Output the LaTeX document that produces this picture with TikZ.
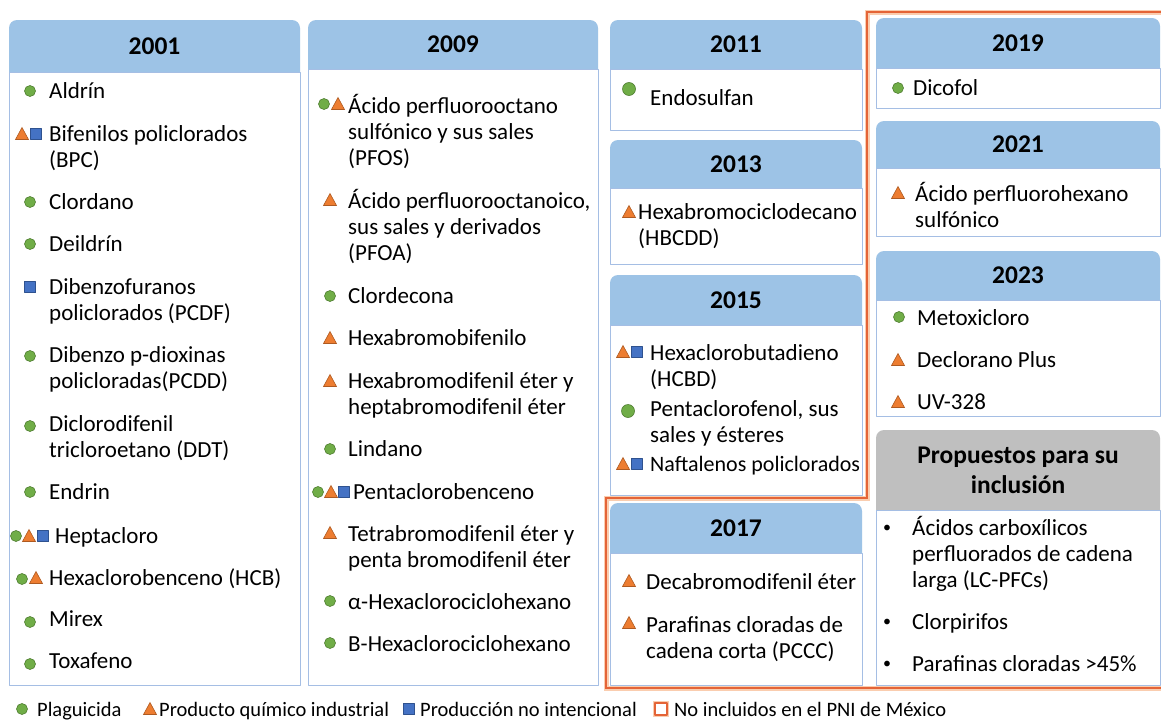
\documentclass[tikz,border=0pt]{standalone}
\usepackage{fontspec}
\setmainfont{Carlito}
\definecolor{hdrblue}{RGB}{157,195,230}
\definecolor{hdrgray}{RGB}{191,191,191}
\definecolor{boxline}{RGB}{165,190,228}
\definecolor{plagreen}{RGB}{112,173,71}
\definecolor{plaedge}{RGB}{80,126,50}
\definecolor{indorange}{RGB}{237,125,49}
\definecolor{indedge}{RGB}{174,90,33}
\definecolor{nonblue}{RGB}{68,114,196}
\definecolor{nonedge}{RGB}{47,82,143}
\definecolor{pniline}{RGB}{228,100,55}
\definecolor{pniglow}{RGB}{250,205,175}
% name, x1, x2, top, header bottom, bottom, fill, label
\newcommand{\yearbox}[8]{%
 \fill[#7, rounded corners=8pt] (#2,#5+10) rectangle (#3,#4);
 \filldraw[bodybox] (#2,#5) rectangle (#3,#6);
 \node[yearlbl] (#1) at ({(#2+#3)/2},{(#4+#5)/2}) {#8};}
\newcommand{\plag}[2]{\filldraw[plag] (#1,#2) circle (5.5pt);}
\newcommand{\indq}[2]{\filldraw[indq] (#1-6.5,#2+5.5) -- (#1+6.5,#2+5.5) -- (#1,#2-6.5) -- cycle;}
\newcommand{\nonint}[2]{\filldraw[nonint] (#1-5.5,#2-5.5) rectangle (#1+5.5,#2+5.5);}
\begin{document}
\begin{tikzpicture}[x=1pt, y=-1pt, line join=round,
 item/.style={anchor=base west, inner sep=0pt, align=left, font=\fontsize{23}{26}\selectfont},
 bul/.style={anchor=base west, inner sep=0pt, font=\fontsize{16}{20}\selectfont},
 yearlbl/.style={inner sep=0pt, align=center, font=\bfseries\fontsize{25.5}{30}\selectfont},
 lgd/.style={anchor=base west, inner sep=0pt, font=\fontsize{20.5}{24}\selectfont},
 plag/.style={fill=plagreen, draw=plaedge, line width=0.6pt},
 indq/.style={fill=indorange, draw=indedge, line width=0.6pt, line join=miter},
 nonint/.style={fill=nonblue, draw=nonedge, line width=0.6pt},
 bodybox/.style={fill=white, draw=boxline, line width=1pt},
 pniglow/.style={draw=pniglow, line width=5pt, line join=miter},
 pniedge/.style={draw=pniline, line width=1.6pt, line join=miter}]
 \useasboundingbox (0,0) rectangle (1161,720);
 \fill[white] (0,0) rectangle (1161,720);
 % boxes
 \yearbox{y2001}{9}{300}{20}{72}{685}{hdrblue}{2001}
 \yearbox{y2009}{308}{598}{20}{69}{685}{hdrblue}{2009}
 \yearbox{y2011}{610}{862}{20}{69}{130}{hdrblue}{2011}
 \yearbox{y2013}{610}{862}{140}{188}{264}{hdrblue}{2013}
 \yearbox{y2015}{610}{862}{275}{325}{495}{hdrblue}{2015}
 \yearbox{y2017}{610}{862}{503}{553}{685}{hdrblue}{2017}
 \yearbox{y2019}{876}{1160}{18}{68}{108}{hdrblue}{2019}
 \yearbox{y2021}{876}{1160}{121}{168}{236}{hdrblue}{2021}
 \yearbox{y2023}{876}{1160}{251}{300}{416}{hdrblue}{2023}
 \yearbox{prop}{876}{1160}{430}{510}{685}{hdrgray}{Propuestos para su\\inclusión}
 % not in the PNI
 \draw[pniglow] (867,12) -- (1166,12) -- (1166,688) -- (606,688) -- (606,498) -- (867,498) -- cycle;
 \draw[pniedge] (867,12) -- (1166,12) -- (1166,688) -- (606,688) -- (606,498) -- (867,498) -- cycle;
 % 2001 (multi-line items sit on their last baseline)
 \plag{30}{91} \node[item] (aldrin) at (49,98) {Aldrín};
 \indq{22}{134} \nonint{36}{134} \node[item] (bpc) at (49,167) {Bifenilos policlorados\\(BPC)};
 \plag{30}{202} \node[item] (clordano) at (49,209) {Clordano};
 \plag{30}{244} \node[item] (deildrin) at (49,251) {Deildrín};
 \nonint{30}{287} \node[item] (pcdf) at (49,320) {Dibenzofuranos\\policlorados (PCDF)};
 \plag{30}{356} \node[item] (pcdd) at (49,388) {Dibenzo p-dioxinas\\policloradas(PCDD)};
 \plag{30}{426} \node[item] (ddt) at (49,457) {Diclorodifenil\\tricloroetano (DDT)};
 \plag{30}{492} \node[item] (endrin) at (49,499) {Endrin};
 \plag{16}{536} \indq{29}{536} \nonint{43}{536} \node[item] (hepta) at (55,543) {Heptacloro};
 \plag{22}{579} \indq{36}{578} \node[item] (hcb) at (49,585) {Hexaclorobenceno (HCB)};
 \plag{30}{622} \node[item] (mirex) at (49,626) {Mirex};
 \plag{30}{664} \node[item] (toxa) at (49,668) {Toxafeno};
 % 2009
 \plag{324}{104} \indq{338}{104} \node[item] (pfos) at (348,165) {Ácido perfluorooctano\\sulfónico y sus sales\\(PFOS)};
 \indq{330}{200} \node[item] (pfoa) at (348,260) {Ácido perfluorooctanoico,\\sus sales y derivados\\(PFOA)};
 \plag{330}{296} \node[item] (clordec) at (348,303) {Clordecona};
 \indq{330}{338} \node[item] (hbb) at (348,345) {Hexabromobifenilo};
 \indq{330}{381} \node[item] (hexabde) at (348,414) {Hexabromodifenil éter y\\heptabromodifenil éter};
 \plag{330}{449} \node[item] (lindano) at (348,456) {Lindano};
 \plag{318}{492} \indq{331}{492} \nonint{344}{492} \node[item] (pecb) at (353,499) {Pentaclorobenceno};
 \indq{330}{533} \node[item] (tetrabde) at (348,567) {Tetrabromodifenil éter y\\penta bromodifenil éter};
 \plag{330}{601} \node[item] (ahch) at (348,609) {α-Hexaclorociclohexano};
 \plag{330}{643} \node[item] (bhch) at (348,651) {B-Hexaclorociclohexano};
 % 2011 - 2017
 \filldraw[plag] (629,89) circle (6.5pt); \node[item] (endo) at (650,105) {Endosulfan};
 \indq{629}{212} \node[item] (hbcdd) at (638,245) {Hexabromociclodecano\\(HBCDD)};
 \indq{623}{352} \nonint{637}{352} \node[item] (hcbd) at (650,386) {Hexaclorobutadieno\\(HCBD)};
 \filldraw[plag] (628,411) circle (6.5pt); \node[item] (pcp) at (650,442) {Pentaclorofenol, sus\\sales y ésteres};
 \indq{623}{464} \nonint{637}{464} \node[item, font=\fontsize{22}{26}\selectfont] (pcn) at (650,471) {Naftalenos policlorados};
 \indq{629}{581} \node[item] (decabde) at (646,589) {Decabromodifenil éter};
 \indq{629}{623} \node[item] (pccc) at (646,658) {Parafinas cloradas de\\cadena corta (PCCC)};
 % 2019 - 2023
 \plag{898}{88} \node[item] (dicofol) at (913,95) {Dicofol};
 \indq{898}{193} \node[item] (pfhxs) at (915,227) {Ácido perfluorohexano\\sulfónico};
 \plag{899}{317} \node[item] (metoxi) at (917,325) {Metoxicloro};
 \indq{898}{360} \node[item] (dp) at (917,367) {Declorano Plus};
 \indq{898}{402} \node[item] (uv) at (917,409) {UV-328};
 % proposed
 \node[bul] (b1) at (883,532) {\textbullet}; \node[item] (lcpfc) at (912,587) {Ácidos carboxílicos\\perfluorados de cadena\\larga (LC-PFCs)};
 \node[bul] (b2) at (883,626) {\textbullet}; \node[item] (clorpi) at (912,629) {Clorpirifos};
 \node[bul] (b3) at (883,668) {\textbullet}; \node[item] (pcl) at (912,671) {Parafinas cloradas >45\%};
 % legend
 \plag{22}{709} \node[lgd] (lplag) at (37,716) {Plaguicida};
 \indq{150}{709} \node[lgd] (lind) at (159,716) {Producto químico industrial};
 \nonint{409}{709} \node[lgd] (lnon) at (420,716) {Producción no intencional};
 \draw[pniglow, line width=4pt] (655,703) rectangle (667,715);
 \filldraw[fill=white, draw=pniline, line width=1.4pt] (655,703) rectangle (667,715);
 \node[lgd] (lpni) at (674,716) {No incluidos en el PNI de México};
\end{tikzpicture}
\end{document}
